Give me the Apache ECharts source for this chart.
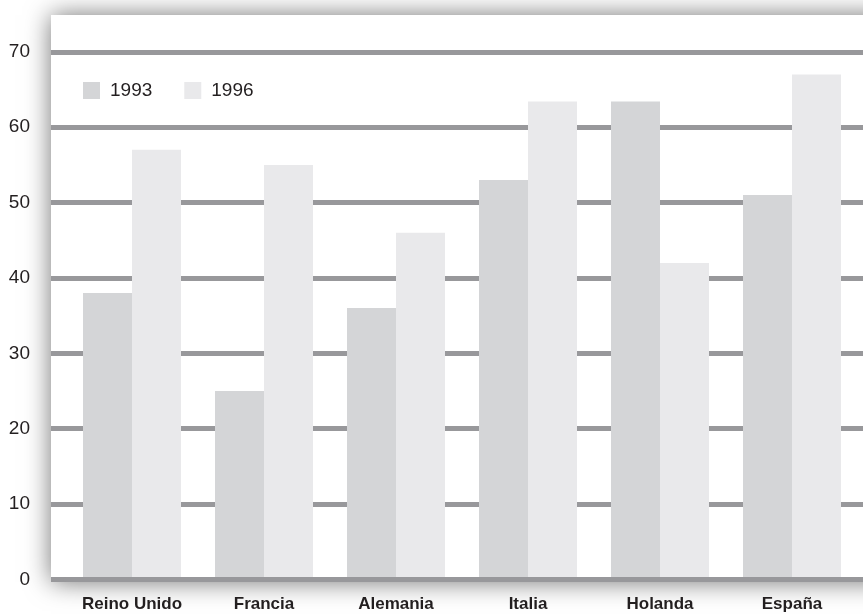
<!DOCTYPE html>
<html>
<head>
<meta charset="utf-8">
<script src="https://cdn.jsdelivr.net/npm/echarts@6/dist/echarts.min.js"></script>
<style>
  html, body { margin: 0; padding: 0; background: #ffffff; }
  #chart { width: 863px; height: 614px; }
</style>
</head>
<body>
<div id="chart"></div>
<script>
// Countries along the horizontal axis
const countries = ['Reino Unido', 'Francia', 'Alemania', 'Italia', 'Holanda', 'España'];
// Values per year
const values1993 = [38, 25, 36, 53, 63.4, 51];
const values1996 = [57, 55, 46, 63.4, 42, 67];
const seriesNames = ['1993', '1996'];

const COLOR_1993 = '#d4d5d7';
const COLOR_1996 = '#e9e9eb';
const GRID_LINE = '#98989b';
const TEXT = '#231f20';

const chart = echarts.init(document.getElementById('chart'), null, { renderer: 'canvas' });

const gridTop = 51.8;
const gridBottom = 34.5;

chart.setOption({
  animation: false,
  backgroundColor: '#ffffff',
  graphic: [
    {
      // white panel with soft drop shadow behind the plot
      type: 'rect',
      z: -10,
      silent: true,
      shape: { x: 51, y: 15, width: 840, height: 567 },
      style: {
        fill: '#ffffff',
        shadowBlur: 24,
        shadowColor: 'rgba(0,0,0,0.55)',
        shadowOffsetX: 0,
        shadowOffsetY: 0
      }
    }
  ],
  legend: {
    left: 83,
    top: 81,
    padding: 0,
    icon: 'rect',
    itemWidth: 17,
    itemHeight: 17,
    itemGap: 32,
    data: seriesNames,
    textStyle: {
      fontFamily: 'Liberation Sans',
      fontSize: 19,
      color: TEXT,
      padding: [0, 0, 0, 5]
    }
  },
  grid: [
    // bars
    { left: 66, right: 5, top: gridTop, bottom: gridBottom },
    // full-width horizontal rules and value labels
    { left: 51, right: 0, top: gridTop, bottom: gridBottom }
  ],
  xAxis: [
    {
      type: 'category',
      gridIndex: 0,
      data: countries,
      z: 5,
      axisLine: { show: true, lineStyle: { color: GRID_LINE, width: 5 } },
      axisTick: { show: false },
      axisLabel: {
        interval: 0,
        margin: 16,
        fontFamily: 'Liberation Sans',
        fontWeight: 'bold',
        fontSize: 17,
        color: TEXT
      },
      splitLine: { show: false }
    },
    {
      type: 'value',
      gridIndex: 1,
      show: false
    }
  ],
  yAxis: [
    {
      type: 'value',
      gridIndex: 0,
      min: 0,
      max: 70,
      interval: 10,
      show: false
    },
    {
      type: 'value',
      gridIndex: 1,
      min: 0,
      max: 70,
      interval: 10,
      axisLine: { show: false },
      axisTick: { show: false },
      axisLabel: {
        margin: 21,
        fontFamily: 'Liberation Sans',
        fontSize: 19,
        color: TEXT
      },
      splitLine: { show: true, lineStyle: { color: GRID_LINE, width: 5 } }
    }
  ],
  series: [
    {
      name: seriesNames[0],
      type: 'bar',
      xAxisIndex: 0,
      yAxisIndex: 0,
      data: values1993,
      barWidth: 49,
      barGap: '0%',
      itemStyle: { color: COLOR_1993 }
    },
    {
      name: seriesNames[1],
      type: 'bar',
      xAxisIndex: 0,
      yAxisIndex: 0,
      data: values1996,
      barWidth: 49,
      barGap: '0%',
      itemStyle: { color: COLOR_1996 }
    }
  ]
});
</script>
</body>
</html>
